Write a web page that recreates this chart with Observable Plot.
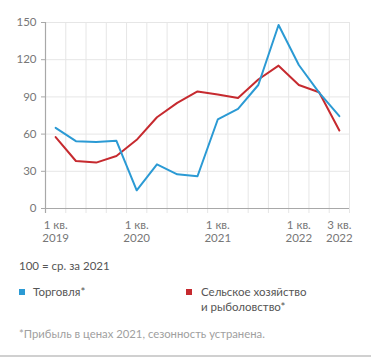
<!DOCTYPE html>
<html><head><meta charset="utf-8">
<script src="https://cdn.jsdelivr.net/npm/d3@7"></script>
<script src="https://cdn.jsdelivr.net/npm/@observablehq/plot@0.6"></script>
<style>
body{margin:0;background:#fff;font-family:Lato,"Open Sans",sans-serif;}
#wrap{position:relative;width:371px;height:357px;overflow:hidden;background:#fff}
#chart{position:absolute;left:0;top:0}
.t{position:absolute;white-space:nowrap;color:#555;font-size:11.5px;line-height:15px}
.sq{position:absolute;width:6px;height:6px}
#note{color:#a0a0a0;font-size:11.3px}
#bline{position:absolute;left:0;top:355px;width:371px;height:2px;background:#d0d0d0}
</style></head>
<body><div id="wrap">
<div id="chart"></div>
<div class="t" id="base" style="left:19px;top:258px">100 = ср. за 2021</div>
<div class="sq" style="left:19px;top:289px;background:#2b9ad4"></div>
<div class="t" id="lg1" style="left:33px;top:284px"></div>
<div class="sq" style="left:186px;top:289px;background:#c62a2f"></div>
<div class="t" id="lg2" style="left:201px;top:284px"></div>
<div class="t" id="note" style="left:19px;top:326px">*Прибыль в ценах 2021, сезонность устранена.</div>
<div id="bline"></div>
</div>
<script>
const quarters = ["1 кв. 2019","2 кв. 2019","3 кв. 2019","4 кв. 2019",
  "1 кв. 2020","2 кв. 2020","3 кв. 2020","4 кв. 2020",
  "1 кв. 2021","2 кв. 2021","3 кв. 2021","4 кв. 2021",
  "1 кв. 2022","2 кв. 2022","3 кв. 2022"];
const seriesNames = ["Торговля*", "Сельское хозяйство\nи рыболовство*"];
const seriesColors = ["#2b9ad4", "#c62a2f"];
const trade = [65, 54.3, 53.6, 54.6, 14.7, 35.6, 27.6, 26, 71.8, 80.3, 99.6, 148, 115.7, 93.5, 74.5];
const agri = [57.6, 38.3, 37, 42.3, 55.4, 73.6, 85.2, 94.4, 92, 89.1, 104, 115.2, 99.6, 93.7, 62.9];
const yTicks = [0, 30, 60, 90, 120, 150];
const tickQuarters = ["1 кв. 2019","1 кв. 2020","1 кв. 2021","1 кв. 2022","3 кв. 2022"];
const tickLabels = ["1 кв.\n2019","1 кв.\n2020","1 кв.\n2021","1 кв.\n2022","3 кв.\n2022"];

document.getElementById("lg1").textContent = seriesNames[0];
document.getElementById("lg2").innerHTML = seriesNames[1].replace("\n","<br>");

const rows = [];
quarters.forEach((q, i) => {
  rows.push({i, q, v: agri[i], s: seriesNames[1]});
});
quarters.forEach((q, i) => {
  rows.push({i, q, v: trade[i], s: seriesNames[0]});
});
const edges = d3.range(quarters.length + 1).map(k => k - 0.5);

const chart = Plot.plot({
  width: 371, height: 250,
  marginLeft: 45, marginRight: 22, marginTop: 22, marginBottom: 42,
  style: {fontFamily: "Lato, 'Open Sans', sans-serif", fontSize: "11.5px", color: "#777", background: "#fff"},
  x: {type: "linear", domain: [-0.5, quarters.length - 0.5], axis: null},
  y: {domain: [0, 150]},
  color: {domain: seriesNames, range: seriesColors},
  marks: [
    Plot.ruleY(yTicks.slice(1), {stroke: "#e6e6e6", strokeWidth: 1}),
    Plot.ruleX(edges.slice(1), {stroke: "#e6e6e6", strokeWidth: 1, insetBottom: -5}),
    Plot.ruleY([0], {stroke: "#a8a8a8", strokeWidth: 1.2}),
    Plot.ruleX([edges[0]], {stroke: "#a8a8a8", strokeWidth: 1.2, insetBottom: -5}),
    Plot.axisY({ticks: yTicks, tickSize: 4, tickPadding: 5, stroke: "#a8a8a8", fill: "#777", label: null, fontSize: 11.5}),
    Plot.text(tickQuarters, {x: q => quarters.indexOf(q), y: 0, text: (q, j) => tickLabels[j],
      lineAnchor: "top", dy: 11, lineHeight: 1.12, fill: "#777", fontSize: 11.5}),
    Plot.line(rows, {x: "i", y: "v", z: "s", stroke: "s", strokeWidth: 2, curve: "linear"})
  ]
});
document.getElementById("chart").appendChild(chart);
</script>
</body></html>
